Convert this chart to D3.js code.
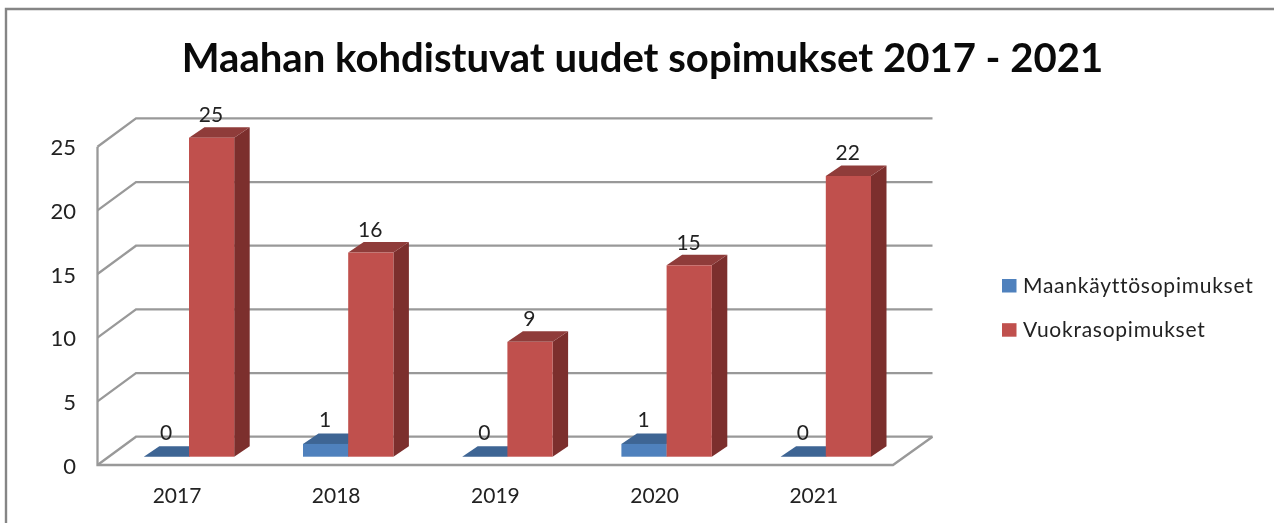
<!DOCTYPE html>
<html><head><meta charset="utf-8">
<style>
html,body{margin:0;padding:0;background:#fff;overflow:hidden}
svg{display:block;filter:blur(0.5px)}
text{font-family:Lato,"Open Sans",sans-serif;fill:#222}
</style>
<script src="https://cdn.jsdelivr.net/npm/d3@7/dist/d3.min.js"></script>
</head><body><svg id="c" width="1274" height="523"></svg>
<script>
const titleText = "Maahan kohdistuvat uudet sopimukset 2017 - 2021";
const years = ["2017","2018","2019","2020","2021"];
const landUse = [0,1,0,1,0];
const rental = [25,16,9,15,22];
const seriesNames = ["Maankäyttösopimukset","Vuokrasopimukset"];
const yTicks = [0,5,10,15,20,25];

const W=1274,H=523;
const svg=d3.select("#c");
const col={blue:{f:"#4f81bd",t:"#3e6594",s:"#2f4f75"},red:{f:"#c0504d",t:"#8f3c3a",s:"#7c2f2d"},grid:"#999999",frame:"#858585"};
const depth={x:15.5,y:-10.5};

// frame
svg.append("path").attr("d",`M6,523V9H${W}`).attr("fill","none").attr("stroke",col.frame).attr("stroke-width",2.4);

// title
svg.append("text").attr("x",642.5).attr("y",71.5).attr("text-anchor","middle")
  .attr("font-size",40.1).attr("font-weight",700).style("fill","#0a0a0a").text(titleText);

// scales
const wallY=d3.scaleLinear().domain([0,25]).range([465,146.7]);
const barY=d3.scaleLinear().domain([0,25]).range([456.7,137.7]);
const x=d3.scaleBand().domain(years).range([109.4,905.4]).paddingInner(0);
const barW=45.2;
const wall={fx:97.5,bx:136,dy:-28.3,frx:893,brx:932.5};

// gridlines
const grid=svg.append("g").attr("fill","none").attr("stroke",col.grid).attr("stroke-width",2.3);
yTicks.forEach(t=>{
  const y=wallY(t);
  grid.append("path").attr("d",`M${wall.fx},${y}L${wall.bx},${y+wall.dy}H${wall.brx}`);
});
grid.append("path").attr("d",`M${wall.fx},${wallY(25)}V${wallY(0)}H${wall.frx}L${wall.brx},${wallY(0)+wall.dy}`);

// y axis
const ya=svg.append("g").attr("transform","translate(76,1)").call(d3.axisLeft(wallY).tickValues(yTicks).tickSize(0).tickPadding(0));
ya.select(".domain").remove();
ya.selectAll("text").attr("font-size",22).style("font-family","Lato,sans-serif").style("fill","#222");

// x axis
const xa=svg.append("g").attr("transform","translate(-12,0)")
  .call(g=>g.selectAll("text").data(years).join("text")
    .attr("x",d=>x(d)+x.bandwidth()/2).attr("y",503).attr("text-anchor","middle").attr("font-size",21).text(d=>d));

// bars
function bar(g,x0,v,c){
  const y0=barY(0),y1=barY(v),w=barW,dx=depth.x,dy=depth.y;
  g.append("path").attr("fill",c.s).attr("d",`M${x0+w},${y1}L${x0+w+dx},${y1+dy}V${y0+dy}L${x0+w},${y0}Z`);
  g.append("path").attr("fill",c.t).attr("d",`M${x0},${y1}L${x0+dx},${y1+dy}H${x0+w+dx}L${x0+w},${y1}Z`);
  g.append("rect").attr("x",x0).attr("y",y1).attr("width",w).attr("height",y0-y1).attr("fill",c.f);
}
const bars=svg.append("g");
years.forEach((yr,i)=>{
  const mid=x(yr)+x.bandwidth()/2;
  bar(bars,mid-barW,landUse[i],col.blue);
  bar(bars,mid,rental[i],col.red);
});

// data labels
const labels=svg.append("g").attr("text-anchor","middle").attr("font-size",21);
years.forEach((yr,i)=>{
  const mid=x(yr)+x.bandwidth()/2;
  labels.append("text").attr("x",mid-23).attr("y",barY(landUse[i])-16.5).text(landUse[i]);
  labels.append("text").attr("x",mid+22).attr("y",barY(rental[i])-15.5).text(rental[i]);
});

// legend
const lg=svg.append("g");
seriesNames.forEach((n,i)=>{
  const y=279+i*44.2;
  lg.append("rect").attr("x",1002).attr("y",y).attr("width",14.5).attr("height",13.5).attr("fill",i?col.red.f:col.blue.f);
  lg.append("text").attr("x",1023).attr("y",y+14).attr("font-size",21).attr("letter-spacing",0.75).text(n);
});
</script></body></html>
